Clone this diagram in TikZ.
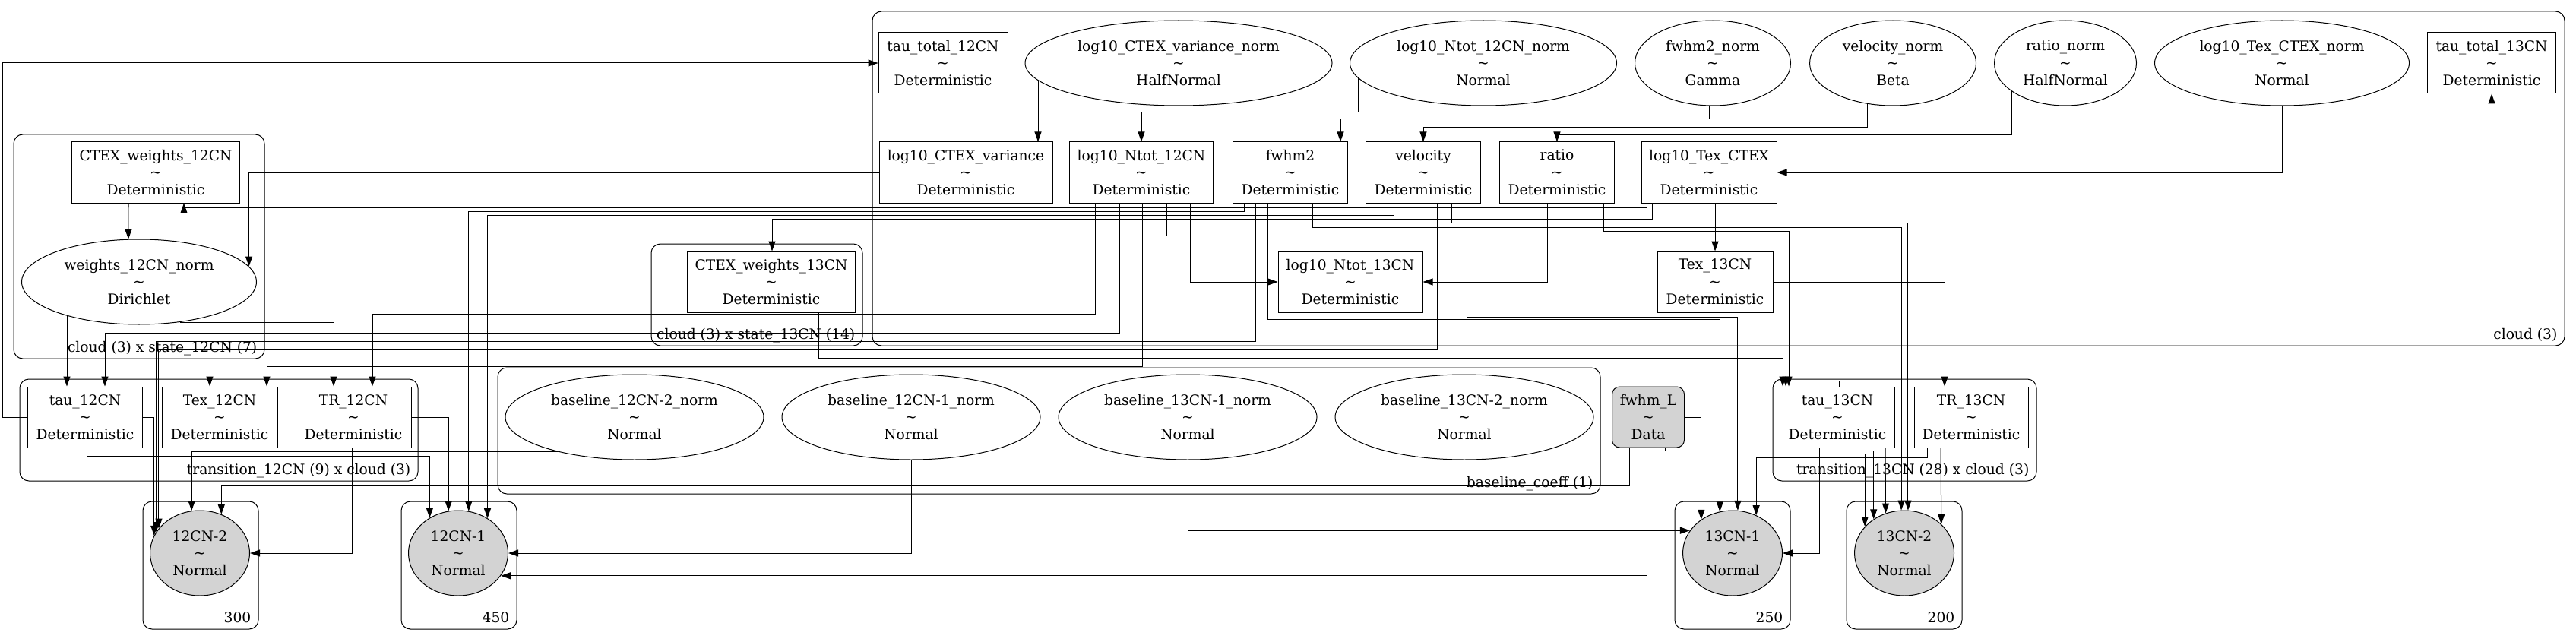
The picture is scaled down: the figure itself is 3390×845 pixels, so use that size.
\documentclass[tikz,border=0pt]{standalone}
\usepackage{fontspec}
\setmainfont{DejaVu Serif}
\usetikzlibrary{fit,shapes.geometric,arrows.meta,backgrounds}
\definecolor{obsgray}{HTML}{D3D3D3}

\begin{document}
\begin{tikzpicture}[ x=1pt, y=-1pt, >={Triangle[length=13pt,width=9pt]},
        font=\fontsize{18.67pt}{22.8pt}\selectfont,
        det/.style={ draw, rectangle, fill=white, line width=1pt,
          minimum height=80pt, inner sep=0pt, align=center },
        dist/.style={ draw, ellipse, fill=white, line width=1pt,
          minimum height=112pt, inner sep=0pt, align=center },
        obs/.style={ dist, fill=obsgray, minimum width=131pt },
        datanode/.style={ det, rounded corners=10pt, fill=obsgray },
        plate/.style={ draw, line width=1pt, rounded corners=12pt, inner sep=0pt },
        platelabel/.style={ anchor=base east, inner sep=0pt },
        dep/.style={ ->, line width=1pt } ]
        \useasboundingbox (0,0) rectangle (3390,845);

        \foreach \n/\xa/\ya/\xb/\yb/\l in {cloud/1148/15/3375/455/cloud (3),
          state12/18/177/348/472/cloud (3) x state\_12CN (7),
          state13/857/321/1135/455/cloud (3) x state\_13CN (14),
          trans12/26/499/550/633/transition\_12CN (9) x cloud (3),
          base/655/484/2106/650/baseline\_coeff (1),
          trans13/2333/499/2680/633/transition\_13CN (28) x cloud (3),
          p300/188/660/340/828/300,p450/528/660/680/828/450,
          p250/2204/660/2356/828/250,p200/2430/660/2582/828/200}
        { \node[plate,fit={(\xa,\ya) (\xb,\yb)}] (\n) {};
          \node[platelabel] (l\n) at ([xshift=-10pt,yshift=9pt]\n.south east) {\l}; }

        \foreach \n/\x/\y/\w/\t/\d in {cvarn/1551/83/404/log10\_CTEX\_variance\_norm/HalfNormal,
          nt12n/1952/83/351/log10\_Ntot\_12CN\_norm/Normal,
          fwhm2n/2254/83/205/fwhm2\_norm/Gamma,
          veln/2491/83/219/velocity\_norm/Beta,
          ration/2718/83/187/ratio\_norm/HalfNormal,
          texcn/3003/83/335/log10\_Tex\_CTEX\_norm/Normal,
          w12n/183/371/309/weights\_12CN\_norm/Dirichlet,
          b122/835/549/340/baseline\_12CN-2\_norm/Normal,
          b121/1199/549/340/baseline\_12CN-1\_norm/Normal,
          b131/1563/549/340/baseline\_13CN-1\_norm/Normal,
          b132/1927/549/340/baseline\_13CN-2\_norm/Normal}
        \node[dist,minimum width=\w pt] (\n) at (\x,\y) {\t\\\textasciitilde\\\d};

        \foreach \n/\x/\y/\w/\t in {tt12/1241/83/170/tau\_total\_12CN,
          tt13/3279/83/169/tau\_total\_13CN,
          cw12/205/227/221/CTEX\_weights\_12CN,
          cvar/1271/227/228/log10\_CTEX\_variance,
          nt12/1502/227/189/log10\_Ntot\_12CN,
          fwhm2/1698/227/151/fwhm2,vel/1873/227/151/velocity,
          ratio/2049/227/151/ratio,texc/2249/227/178/log10\_Tex\_CTEX,
          cw13/1015/371/221/CTEX\_weights\_13CN,
          nt13/1777/371/190/log10\_Ntot\_13CN,tex13/2257/371/152/Tex\_13CN,
          tau12/112/549/151/tau\_12CN,tex12/289/549/152/Tex\_12CN,
          tr12/465/549/152/TR\_12CN,tau13/2418/549/151/tau\_13CN,
          tr13/2594/549/150/TR\_13CN}
        \node[det,minimum width=\w pt] (\n) at (\x,\y) {\t\\\textasciitilde\\Deterministic};

        \node[datanode,minimum width=95pt] (fwhmL) at (2169,549) {fwhm\_L\\\textasciitilde\\Data};

        \foreach \n/\x/\t in {o122/263/12CN-2,o121/603/12CN-1,o131/2280/13CN-1,o132/2506/13CN-2}
        \node[obs] (\n) at (\x,728) {\t\\\textasciitilde\\Normal};

        \begin{scope}[on background layer]
        \draw[dep] ([xshift=-185pt]cvarn.center) -- ([xshift=95pt]cvar.north);
        \draw[dep] ([xshift=-165pt]nt12n.center) -- ++(0,65) -| (nt12.north);
        \draw[dep] ([xshift=-5pt]fwhm2n.center) -- ++(0,74) -| ([xshift=66pt]fwhm2.north);
        \draw[dep] ([xshift=-34pt]veln.center) -- ++(0,85) -| (vel.north);
        \draw[dep] ([xshift=-71pt]ration.center) -- ++(0,95) -| (ratio.north);
        \draw[dep] (texcn.center) |- (texc.east);

        \draw[dep] (cvar.west) -| (w12n.8.4);
        \draw[dep] ([xshift=-82pt]texc.south) -- ++(0,6) -| ([xshift=37pt]cw12.south);
        \draw[dep] ([xshift=-75pt]texc.south) -- ++(0,21) -| ([xshift=1pt]cw13.north);
        \draw[dep] ([xshift=8pt]texc.south) -- (tex13.north);
        \draw[dep] ([xshift=-36pt]cw12.south) -- (w12n.104.1);

        \draw[dep] ([xshift=-95pt]w12n.center) -- ([xshift=-24pt]tau12.north);
        \draw[dep] ([xshift=93pt]w12n.center) -- ([xshift=-13pt]tex12.north);
        \draw[dep] ([xshift=54pt]w12n.center) -- ++(0,53) -| ([xshift=-26pt]tr12.north);
        \draw[dep] ([xshift=-29pt]nt12.south) -- ++(0,171) -| ([xshift=26pt]tau12.north);
        \draw[dep] ([xshift=-61pt]nt12.south) -- ++(0,146) -| ([xshift=25pt]tr12.north);
        \draw[dep] ([xshift=1pt]nt12.south) -- ++(0,215) -| ([xshift=62pt]tex12.north);
        \draw[dep] ([xshift=64pt]nt12.south) |- (nt13.west);
        \draw[dep] ([xshift=-13pt]ratio.south) |- (nt13.east);
        \draw[dep] ([xshift=33pt]nt12.south) -- ++(0,43) -| ([xshift=-68pt]tau13.north);
        \draw[dep] ([xshift=61pt]ratio.south) -- ++(0,37) -| ([xshift=-64pt]tau13.north);
        \draw[dep] ([xshift=62pt]cw13.south) -- ++(0,60) -| ([xshift=-72pt]tau13.north);
        \draw[dep] (tex13.east) -| ([xshift=-35pt]tr13.north);

        \draw[dep] (tau12.west) -- ++(-33,0) |- (tt12.west);
        \draw[dep] ([xshift=2pt]tau13.north) -- ++(0,-7) -| (tt13.south);

        \draw[dep] ([xshift=-61pt]fwhm2.south) -- ++(0,11) -| (o121.76.7);
        \draw[dep] ([xshift=-39pt]vel.south) -- ++(0,16) -| (o121.50.2);
        \draw[dep] ([xshift=2pt]tau12.south) -- ++(0,11) -| (o121.129.8);
        \draw[dep] (tr12.east) -| (o121.103.3);
        \draw[dep] (b121.center) |- (o121.east);
        \draw[dep] ([xshift=-2pt]fwhmL.south) |- (o121.332.6);

        \draw[dep] (tau12.east) -| (o122.159.4);
        \draw[dep] ([xshift=-46pt]fwhm2.south) -- ++(0,182) -| (o122.154.2);
        \draw[dep] ([xshift=18pt]vel.south) -- ++(0,193) -| (o122.149.6);
        \draw[dep] ([xshift=-2pt]tr12.south) |- (o122.east);
        \draw[dep] ([yshift=-45pt]b122.center) -| (o122.101.3);
        \draw[dep] ([xshift=-25pt]fwhmL.south) -- ++(0,50) -| (o122.61);

        \draw[dep] (fwhmL.east) -| (o131.133.2);
        \draw[dep] ([xshift=-30pt]fwhm2.south) -- ++(0,153) -| (o131.107.4);
        \draw[dep] ([xshift=57pt]vel.south) -- ++(0,150) -| (o131.83.9);
        \draw[dep] ([xshift=-58pt]tr13.south) -- ++(0,13) -| (o131.58.9);
        \draw[dep] (b131.center) |- (o131.152.6);
        \draw[dep] ([xshift=-24pt]tau13.south) |- (o131.east);

        \draw[dep] ([yshift=-48pt]b132.center) -| (o132.146.7);
        \draw[dep] ([xshift=22pt]fwhmL.south) -- ++(0,4) -| (o132.132.1);
        \draw[dep] ([xshift=63pt]tau13.south) -- (o132.115.8);
        \draw[dep] ([xshift=29pt]fwhm2.south) -- ++(0,32) -| (o132.94.1);
        \draw[dep] ([xshift=37pt]vel.south) -- ++(0,26) -| (o132.85.9);
        \draw[dep] ([xshift=-40pt]tr13.south) -- (o132.38.4);
        \end{scope}
      \end{tikzpicture}
\end{document}
